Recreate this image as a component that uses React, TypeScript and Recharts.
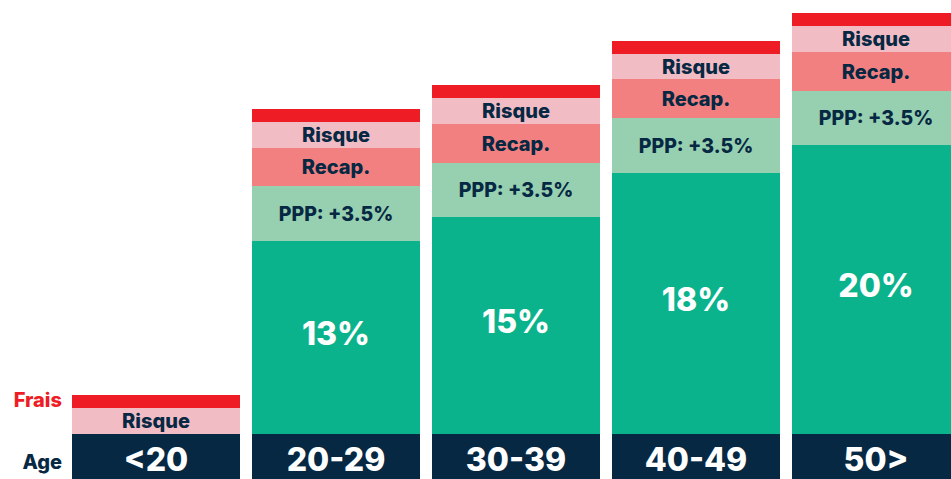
import { Bar, BarChart, LabelList, XAxis, YAxis } from "recharts"

// valeurs (hauteur des segments)
const ages = ["<20", "20-29", "30-39", "40-49", "50>"]
const ageBand = [50, 50, 50, 50, 50]
const base = [0, 193, 217, 261, 289]
const basePct = ["", "13%", "15%", "18%", "20%"]
const ppp = [0, 55, 54, 55, 54]
const pppText = ["", "PPP: +3.5%", "PPP: +3.5%", "PPP: +3.5%", "PPP: +3.5%"]
const recap = [0, 38, 39, 39, 39]
const risque = [26, 26, 26, 25, 26]
const frais = [13, 13, 13, 13, 13]

const data = ages.map((age, i) => ({
  age,
  ageBand: ageBand[i],
  base: base[i],
  basePct: basePct[i],
  ppp: ppp[i],
  pppText: pppText[i],
  recap: recap[i],
  recapText: recap[i] ? "Recap." : "",
  risque: risque[i],
  risqueText: "Risque",
  frais: frais[i],
}))

const NAVY = "#062843"
const FONT = "Inter, 'Open Sans', sans-serif"

const makeLabel = (color: string, size: number, dy = 0) => (props: any) => {
  const { x, y, width, height, value } = props
  if (!height || height <= 0 || !value) return null
  return (
    <text
      x={x + width / 2}
      y={y + height / 2 + dy}
      textAnchor="middle"
      dominantBaseline="central"
      fill={color}
      fontFamily={FONT}
      fontWeight={800}
      fontSize={size}
    >
      {value}
    </text>
  )
}

const sideLabel = (text: string, color: string, dy = 0) => (props: any) => {
  const { x, y, height, index } = props
  if (index !== 0) return null
  return (
    <text
      x={x - 10}
      y={y + height / 2 + dy}
      textAnchor="end"
      dominantBaseline="central"
      fill={color}
      fontFamily={FONT}
      fontWeight={800}
      fontSize={20}
    >
      {text}
    </text>
  )
}

export default function App() {
  return (
    <div style={{ width: 951, height: 479, overflow: "hidden", position: "relative", background: "#fff" }}>
      <style>{"body{margin:0;overflow:hidden}"}</style>
      <BarChart
        width={966}
        height={484}
        data={data}
        margin={{ top: 0, right: 0, left: 66, bottom: 0 }}
        barSize={168}
      >
        <XAxis dataKey="age" hide />
        <YAxis hide domain={[0, 484]} />
        <Bar dataKey="ageBand" stackId="a" fill={NAVY} isAnimationActive={false}>
          <LabelList dataKey="age" content={makeLabel("#ffffff", 32)} />
          <LabelList content={sideLabel("Age", NAVY, 3)} />
        </Bar>
        <Bar dataKey="base" stackId="a" fill="#0bb38c" isAnimationActive={false}>
          <LabelList dataKey="basePct" content={makeLabel("#ffffff", 32, -4)} />
        </Bar>
        <Bar dataKey="ppp" stackId="a" fill="#96d0b0" isAnimationActive={false}>
          <LabelList dataKey="pppText" content={makeLabel(NAVY, 19.5)} />
        </Bar>
        <Bar dataKey="recap" stackId="a" fill="#f38080" isAnimationActive={false}>
          <LabelList dataKey="recapText" content={makeLabel(NAVY, 20)} />
        </Bar>
        <Bar dataKey="risque" stackId="a" fill="#f2bcc5" isAnimationActive={false}>
          <LabelList dataKey="risqueText" content={makeLabel(NAVY, 20)} />
        </Bar>
        <Bar dataKey="frais" stackId="a" fill="#ee1c25" isAnimationActive={false}>
          <LabelList content={sideLabel("Frais", "#ee1c25", -2)} />
        </Bar>
      </BarChart>
    </div>
  )
}
